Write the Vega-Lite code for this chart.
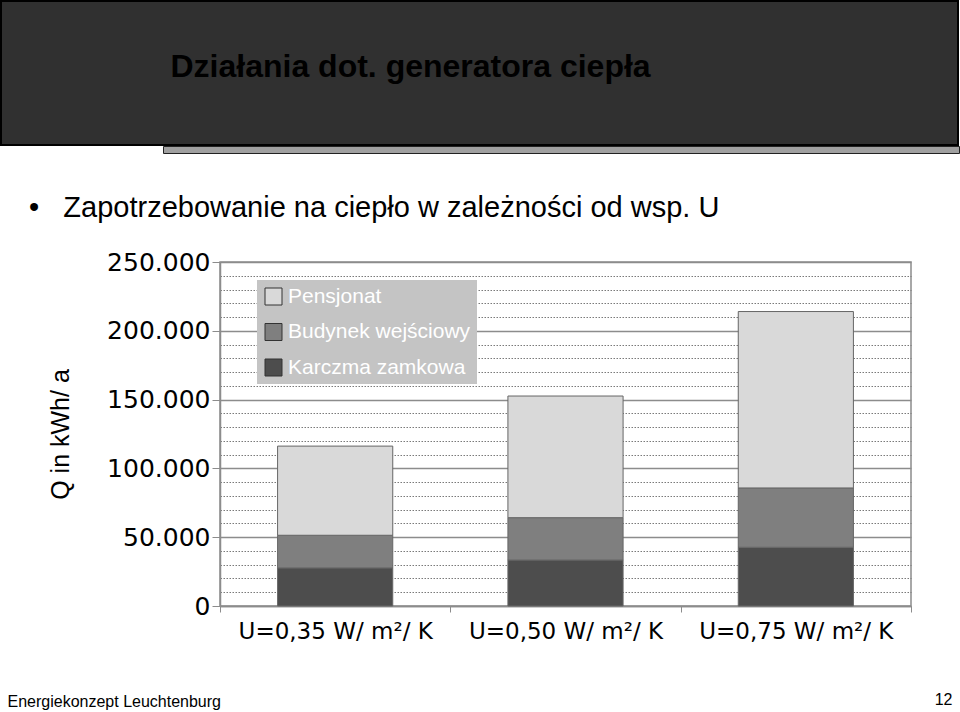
{
  "$schema": "https://vega.github.io/schema/vega-lite/v6.json",
  "padding": 0,
  "background": "white",
  "spacing": 39,
  "title": {"text": "12", "orient": "bottom", "anchor": "end", "frame": "bounds", "offset": -18, "dx": -7, "fontSize": 16, "fontWeight": "normal", "font": "Liberation Sans", "color": "#000"},
  "config": {"font": "Liberation Sans", "view": {"stroke": null}},
  "vconcat": [
    {
      "spacing": -2,
      "vconcat": [
        {
          "width": 957,
          "height": 144,
          "view": {"fill": "#303030", "stroke": "#000", "strokeWidth": 2},
          "data": {"values": [{"naglowek": "Działania dot. generatora ciepła"}]},
          "mark": {"type": "text", "align": "left", "baseline": "middle", "dx": -309, "dy": -6, "font": "Liberation Sans", "fontSize": 32, "fontWeight": "bold", "color": "#000"},
          "encoding": {"text": {"field": "naglowek"}}
        },
        {
          "spacing": 0,
          "hconcat": [
            {"width": 161, "height": 7, "data": {"values": []}, "mark": "point"},
            {"width": 796, "height": 7, "view": {"fill": "#a0a0a0", "stroke": "#222", "strokeWidth": 1}, "data": {"values": []}, "mark": "point"}
          ]
        }
      ]
    },
    {
      "spacing": 0,
      "hconcat": [
        {"width": 5, "height": 1, "data": {"values": []}, "mark": "point"},
        {
          "width": 691,
          "height": 344,
          "view": {"stroke": "#8c8c8c", "strokeWidth": 1.5},
          "title": {"text": "•\u00a0\u00a0\u00a0Zapotrzebowanie na ciepło w zależności od wsp. U", "anchor": "start", "frame": "group", "dx": -191, "fontSize": 29, "fontWeight": "normal", "color": "#000", "offset": 27},
          "data": {"values": [
            {"u": "U=0,35 W/ m²/ K", "obiekt": "Karczma zamkowa", "q": 27700},
            {"u": "U=0,35 W/ m²/ K", "obiekt": "Budynek wejściowy", "q": 23700},
            {"u": "U=0,35 W/ m²/ K", "obiekt": "Pensjonat", "q": 64800},
            {"u": "U=0,50 W/ m²/ K", "obiekt": "Karczma zamkowa", "q": 33400},
            {"u": "U=0,50 W/ m²/ K", "obiekt": "Budynek wejściowy", "q": 30800},
            {"u": "U=0,50 W/ m²/ K", "obiekt": "Pensjonat", "q": 88400},
            {"u": "U=0,75 W/ m²/ K", "obiekt": "Karczma zamkowa", "q": 42700},
            {"u": "U=0,75 W/ m²/ K", "obiekt": "Budynek wejściowy", "q": 43100},
            {"u": "U=0,75 W/ m²/ K", "obiekt": "Pensjonat", "q": 128200}
          ]},
          "transform": [
            {"calculate": "indexof(['Karczma zamkowa', 'Budynek wejściowy', 'Pensjonat'], datum.obiekt)", "as": "kolejnosc"}
          ],
          "mark": {"type": "bar", "width": {"band": 0.5}, "stroke": "#666", "strokeWidth": 1},
          "encoding": {
            "x": {
              "field": "u", "type": "nominal", "sort": null,
              "scale": {"paddingInner": 0, "paddingOuter": 0},
              "axis": {
                "title": "Energiekonzept Leuchtenburg", "titleX": -213, "titleY": 100, "titleAlign": "left", "titleAnchor": "start", "titleBaseline": "alphabetic", "titleFontSize": 16, "titleFontWeight": "normal", "titleColor": "#000",
                "labelAngle": 0, "labelFont": "DejaVu Sans", "labelFontSize": 23, "labelColor": "#000", "labelPadding": 8, "labelLimit": 300,
                "tickBand": "extent", "tickSize": 6, "tickColor": "#8c8c8c", "domainColor": "#8c8c8c", "domainWidth": 1.5, "grid": false
              }
            },
            "y": {
              "field": "q", "type": "quantitative", "stack": "zero",
              "scale": {"domain": [0, 250000], "nice": false},
              "axis": {
                "values": [0, 10000, 20000, 30000, 40000, 50000, 60000, 70000, 80000, 90000, 100000, 110000, 120000, 130000, 140000, 150000, 160000, 170000, 180000, 190000, 200000, 210000, 220000, 230000, 240000, 250000],
                "title": "Q in kWh/ a", "titleFontSize": 25, "titleFontWeight": "normal", "titleColor": "#000", "titlePadding": 33,
                "labelFont": "DejaVu Sans", "labelFontSize": 25, "labelColor": "#000", "labelPadding": 2, "labelOverlap": false,
                "labelExpr": "datum.value % 50000 === 0 ? replace(format(datum.value, ','), ',', '.') : ''",
                "tickSize": 8, "tickColor": "#8c8c8c",
                "tickOpacity": {"condition": {"test": "datum.value % 50000 === 0", "value": 1}, "value": 0},
                "grid": true,
                "gridColor": {"condition": {"test": "datum.value % 50000 === 0", "value": "#8c8c8c"}, "value": "#7a7a7a"},
                "gridDash": {"condition": {"test": "datum.value % 50000 === 0", "value": []}, "value": [1.5, 1.5]},
                "gridWidth": {"condition": {"test": "datum.value % 50000 === 0", "value": 1.5}, "value": 1},
                "domainColor": "#8c8c8c", "domainWidth": 1.5
              }
            },
            "color": {
              "field": "obiekt", "type": "nominal",
              "sort": ["Pensjonat", "Budynek wejściowy", "Karczma zamkowa"],
              "scale": {"domain": ["Pensjonat", "Budynek wejściowy", "Karczma zamkowa"], "range": ["#d9d9d9", "#7f7f7f", "#4d4d4d"]},
              "legend": {
                "title": null, "orient": "none", "legendX": 256, "legendY": 279, "direction": "vertical",
                "fillColor": "#c4c4c4", "padding": 6,
                "symbolType": "square", "symbolSize": 289, "symbolStrokeColor": "#333", "symbolStrokeWidth": 1, "symbolOpacity": 1,
                "labelColor": "#ffffff", "labelFontSize": 21, "labelFont": "Liberation Sans", "labelOffset": 4, "labelLimit": 400,
                "rowPadding": 13.5
              }
            },
            "order": {"field": "kolejnosc", "type": "quantitative", "sort": "ascending"}
          }
        }
      ]
    }
  ]
}
